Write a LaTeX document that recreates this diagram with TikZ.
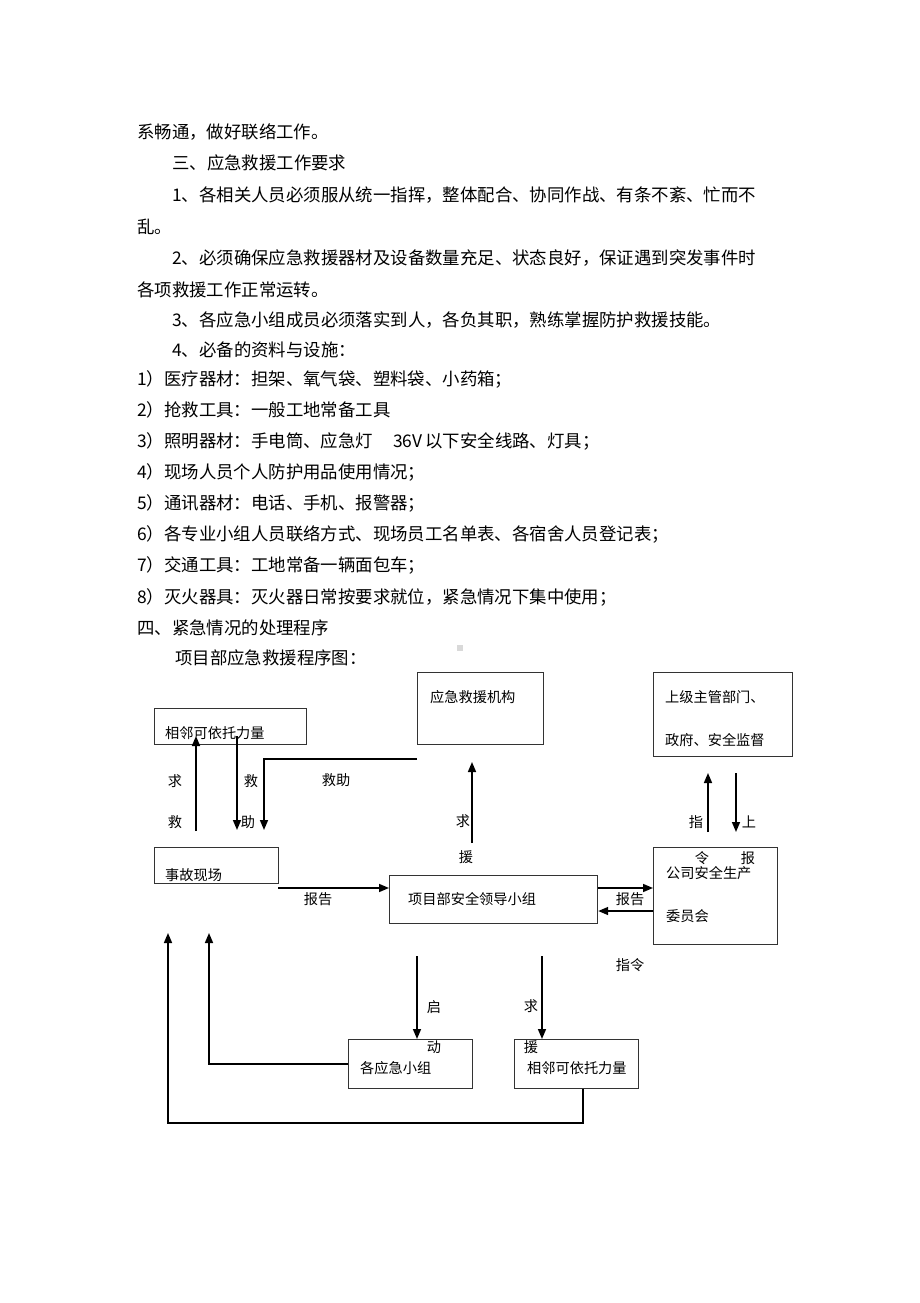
\documentclass[tikz,border=0pt]{standalone}
\usepackage{fontspec}
\setmainfont{Noto Sans CJK SC}
\usetikzlibrary{arrows.meta}
\begin{document}
\begin{tikzpicture}[x=1pt,y=-1pt,
  body/.style={anchor=west,inner sep=0pt,font=\fontsize{17.4}{17.4}\selectfont},
  dtext/.style={anchor=west,inner sep=0pt,font=\fontsize{14.2}{14.2}\selectfont},
  lbl/.style={inner sep=0pt,font=\fontsize{14.2}{14.2}\selectfont},
  box/.style={draw=black!80,line width=1.2pt,anchor=north west,inner sep=0pt},
  arr/.style={-{Triangle[length=10pt,width=8pt]},line width=1.6pt},
  conn/.style={line width=1.4pt}]
\useasboundingbox (0,0) rectangle (920,1303);
\fill[white] (0,0) rectangle (920,1303);

% ---- body text ----
\node[body] (t1) at (137,132) {系畅通，做好联络工作。};
\node[body] (t2) at (172,163) {三、应急救援工作要求};
\node[body] (t3) at (172,195) {1、各相关人员必须服从统一指挥，整体配合、协同作战、有条不紊、忙而不};
\node[body] (t4) at (137,227) {乱。};
\node[body] (t5) at (172,258) {2、必须确保应急救援器材及设备数量充足、状态良好，保证遇到突发事件时};
\node[body] (t6) at (137,290) {各项救援工作正常运转。};
\node[body] (t7) at (172,320) {3、各应急小组成员必须落实到人，各负其职，熟练掌握防护救援技能。};
\node[body] (t8) at (172,350) {4、必备的资料与设施：};
\node[body] (t9) at (137,379) {1）医疗器材：担架、氧气袋、塑料袋、小药箱；};
\node[body] (t10) at (137,410) {2）抢救工具：一般工地常备工具};
\node[body] (t11) at (137,441) {3）照明器材：手电筒、应急灯};
\node[body] (t11b) at (393,441) {36V\hspace{3pt}以下安全线路、灯具；};
\node[body] (t12) at (137,472) {4）现场人员个人防护用品使用情况；};
\node[body] (t13) at (137,503) {5）通讯器材：电话、手机、报警器；};
\node[body] (t14) at (137,534) {6）各专业小组人员联络方式、现场员工名单表、各宿舍人员登记表；};
\node[body] (t15) at (137,565) {7）交通工具：工地常备一辆面包车；};
\node[body] (t16) at (137,597) {8）灭火器具：灭火器日常按要求就位，紧急情况下集中使用；};
\node[body] (t17) at (137,628) {四、紧急情况的处理程序};
\node[body] (t18) at (175,658) {项目部应急救援程序图：};
\fill[black!15] (457,645) rectangle (463,651);

% ---- boxes ----
\node[box,minimum width=152pt,minimum height=36pt] (nb1) at (154,708) {};
\node[box,minimum width=126pt,minimum height=72pt] (jg) at (417,672) {};
\node[box,minimum width=139pt,minimum height=84pt] (sj) at (653,672) {};
\node[box,minimum width=124pt,minimum height=36pt] (sg) at (154,847) {};
\node[box,minimum width=208pt,minimum height=48pt] (xm) at (389,875) {};
\node[box,minimum width=124pt,minimum height=97pt] (gs) at (653,847) {};
\node[box,minimum width=124pt,minimum height=49pt] (xz) at (348,1039) {};
\node[box,minimum width=124pt,minimum height=49pt] (nb2) at (514,1039) {};

% ---- box texts ----
\node[dtext] (nb1t) at (165,733) {相邻可依托力量};
\node[dtext] (jgt) at (430,697) {应急救援机构};
\node[dtext] (sjt1) at (665,697) {上级主管部门、};
\node[dtext] (sjt2) at (665,740) {政府、安全监督};
\node[dtext] (sgt) at (165,875) {事故现场};
\node[dtext] (xmt) at (408,899) {项目部安全领导小组};
\node[dtext] (gst1) at (666,873) {公司安全生产};
\node[dtext] (gst2) at (666,916) {委员会};
\node[dtext] (xzt) at (360,1068) {各应急小组};
\node[dtext] (nb2t) at (527,1068) {相邻可依托力量};

% ---- connector coordinates ----
\coordinate (a1s) at (196,831); \coordinate (a1e) at (196,736);
\coordinate (a2s) at (237,736); \coordinate (a2e) at (237,830);
\coordinate (a3s) at (417,759); \coordinate (a3m) at (264,759); \coordinate (a3e) at (264,830);
\coordinate (a4s) at (472,843); \coordinate (a4e) at (472,762);
\coordinate (a5s) at (708,832); \coordinate (a5e) at (708,773);
\coordinate (a6s) at (736,773); \coordinate (a6e) at (736,832);
\coordinate (a7s) at (278,888);
\coordinate (r1) at (620,888); \coordinate (r2) at (620,911);
\coordinate (s1) at (417,956); \coordinate (s2) at (542,956);
\coordinate (f1) at (209,1064); \coordinate (f1e) at (209,933);
\coordinate (f2) at (583,1123); \coordinate (f2b) at (168,1123); \coordinate (f2e) at (168,933);

% ---- connectors ----
\draw[arr] (a1s) -- (a1e);
\draw[arr] (a2s) -- (a2e);
\draw[arr] (a3s) -- (a3m) -- (a3e);
\draw[arr] (a4s) -- (a4e);
\draw[arr] (a5s) -- (a5e);
\draw[arr] (a6s) -- (a6e);
\draw[arr] (a7s) -- (xm.west |- a7s);
\draw[arr] (xm.east |- r1) -- (gs.west |- r1);
\draw[arr] (gs.west |- r2) -- (xm.east |- r2);
\draw[arr] (s1) -- (xz.north -| s1);
\draw[arr] (s2) -- (nb2.north -| s2);
\draw[arr] (xz.west |- f1) -- (f1) -- (f1e);
\draw[arr] (nb2.south -| f2) -- (f2) -- (f2b) -- (f2e);

% ---- labels ----
\node[lbl] (l1) at (175,781) {求};
\node[lbl] (l2) at (175,822) {救};
\node[lbl] (l3) at (251,781) {救};
\node[lbl] (l4) at (248,822) {助};
\node[lbl] (l5) at (336,780) {救助};
\node[lbl] (l6) at (463,821) {求};
\node[lbl] (l7) at (466,857) {援};
\node[lbl] (l8) at (696,822) {指};
\node[lbl] (l9) at (749,822) {上};
\node[lbl] (l10) at (702,858) {令};
\node[lbl] (l11) at (748,858) {报};
\node[lbl] (l12) at (318,899) {报告};
\node[lbl] (l13) at (630,899) {报告};
\node[lbl] (l14) at (630,965) {指令};
\node[lbl] (l15) at (434,1007) {启};
\node[lbl] (l16) at (434,1047) {动};
\node[lbl] (l17) at (531,1006) {求};
\node[lbl] (l18) at (531,1047) {援};
\end{tikzpicture}
\end{document}
